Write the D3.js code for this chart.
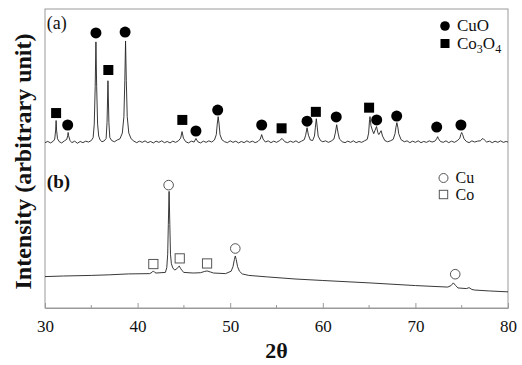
<!DOCTYPE html>
<html><head><meta charset="utf-8">
<script src="https://cdn.jsdelivr.net/npm/d3@7"></script>
<style>body{margin:0;background:#fff}svg{display:block}</style>
</head><body>
<svg id="c" width="522" height="365"></svg>
<script>
// ---- data (2θ in degrees, intensity in arbitrary units) ----
const seriesA = [[30.0,55.3],[30.3,55.7],[30.6,55.2],[30.9,55.8],[31.05,56.5],[31.15,59.5],[31.2,62.7],[31.25,59.5],[31.35,56.6],[31.55,55.6],[31.8,55.2],[32.1,55.9],[32.35,56.4],[32.45,57.6],[32.5,58.7],[32.55,57.6],[32.7,56.0],[32.9,55.3],[33.2,55.8],[33.5,55.1],[33.8,55.7],[34.1,55.3],[34.4,55.8],[34.7,55.5],[35.0,56.0],[35.2,57.0],[35.32,61.5],[35.42,74],[35.5,89.0],[35.58,74],[35.68,61.5],[35.8,57.5],[35.95,56.2],[36.15,55.6],[36.4,55.9],[36.6,56.7],[36.7,62],[36.8,76.0],[36.9,62],[37.0,57.0],[37.2,56.0],[37.5,55.6],[37.8,56.2],[38.1,56.6],[38.35,58.5],[38.52,64],[38.62,76],[38.7,89.3],[38.78,76],[38.88,64],[39.05,58.5],[39.3,56.6],[39.6,55.8],[39.9,55.3],[40.2,55.8],[40.5,55.4],[40.8,55.9],[41.1,55.3],[41.4,55.7],[41.7,55.2],[42.0,55.8],[42.3,55.4],[42.6,55.9],[42.9,55.3],[43.2,55.7],[43.5,55.2],[43.8,55.8],[44.1,55.4],[44.4,55.9],[44.65,56.8],[44.8,59.0],[44.95,56.8],[45.2,55.6],[45.5,55.2],[45.8,55.8],[46.1,55.5],[46.3,56.7],[46.5,55.6],[46.8,55.2],[47.1,55.8],[47.4,55.4],[47.7,55.9],[48.0,55.5],[48.3,56.2],[48.5,58.0],[48.6,61.5],[48.7,64.0],[48.8,61.5],[48.9,58.0],[49.1,56.3],[49.4,55.6],[49.7,55.3],[50.0,55.9],[50.3,55.4],[50.6,55.8],[50.9,55.2],[51.2,55.7],[51.5,55.3],[51.8,55.9],[52.1,55.4],[52.4,55.8],[52.7,55.3],[53.0,55.7],[53.25,56.5],[53.4,58.0],[53.55,56.5],[53.8,55.5],[54.1,55.9],[54.4,55.3],[54.7,55.8],[55.0,55.4],[55.3,55.9],[55.6,56.7],[55.9,55.6],[56.2,55.3],[56.5,55.8],[56.8,55.4],[57.1,55.9],[57.4,55.3],[57.7,55.8],[58.0,56.3],[58.15,57.8],[58.3,60.3],[58.45,57.8],[58.65,56.2],[58.9,56.0],[59.1,57.5],[59.2,60.5],[59.3,63.3],[59.4,60.5],[59.5,57.5],[59.75,56.0],[60.0,55.6],[60.3,55.9],[60.6,55.4],[60.9,55.8],[61.2,56.5],[61.35,58.5],[61.5,61.3],[61.65,58.5],[61.8,56.5],[62.1,55.6],[62.4,55.3],[62.7,55.8],[63.0,55.4],[63.3,55.9],[63.6,55.3],[63.9,55.7],[64.2,55.4],[64.5,55.9],[64.8,56.4],[64.95,58.5],[65.05,63],[65.1,64.0],[65.2,61],[65.35,59.5],[65.5,58.3],[65.65,59.5],[65.8,60.7],[65.95,58.6],[66.05,58.0],[66.15,58.5],[66.3,59.3],[66.45,57.5],[66.7,56.0],[67.0,55.6],[67.3,55.9],[67.6,56.4],[67.8,58.3],[67.9,60.5],[68.0,62.0],[68.1,60.5],[68.2,58.3],[68.45,56.3],[68.8,55.6],[69.1,55.9],[69.4,55.3],[69.7,55.8],[70.0,55.4],[70.3,55.9],[70.6,55.3],[70.9,55.7],[71.2,55.4],[71.5,55.9],[71.8,55.5],[72.1,55.8],[72.3,56.6],[72.4,57.3],[72.5,56.6],[72.7,55.7],[73.0,55.4],[73.3,55.9],[73.6,55.3],[73.9,55.8],[74.2,55.4],[74.5,55.9],[74.8,56.8],[74.9,58.0],[75.0,58.7],[75.1,58.0],[75.25,56.6],[75.5,55.7],[75.8,55.3],[76.1,55.9],[76.4,55.5],[76.7,55.8],[77.0,55.9],[77.2,56.5],[77.3,56.7],[77.45,56.2],[77.7,55.5],[78.0,55.8],[78.3,55.3],[78.6,55.8],[78.9,55.4],[79.2,55.9],[79.5,55.4],[79.8,55.7],[80.0,55.5]];

const seriesB = [[30,10.5],[32,10.7],[35,10.9],[37,11.1],[39,11.4],[41.3,11.5],[41.55,11.9],[41.7,12.4],[41.85,11.9],[42.0,11.7],[43.0,11.9],[43.15,13.5],[43.25,18],[43.32,28],[43.4,39.0],[43.48,28],[43.55,18],[43.65,14.8],[43.8,13.4],[44.0,12.7],[44.2,13.0],[44.35,13.6],[44.5,14.0],[44.65,13.2],[44.8,12.5],[45.0,11.9],[46.0,11.7],[46.8,11.8],[47.2,12.2],[47.5,12.4],[47.9,12.0],[48.2,11.7],[49.5,11.5],[50.1,12.3],[50.3,13.8],[50.45,16.2],[50.55,17.4],[50.65,16.2],[50.8,13.8],[51.0,12.3],[51.3,11.4],[52,10.9],[54,10.4],[57,9.7],[60,9.2],[65,8.4],[70,7.5],[73.5,7.0],[73.85,7.5],[74.1,8.4],[74.35,7.5],[74.6,6.7],[75.5,6.5],[75.8,6.8],[76.1,6.2],[76.4,6.0],[78,5.7],[80,5.4]];

const cuoMarks  = [[32.45,61.2],[35.5,92.0],[38.65,92.3],[46.3,59.2],[48.65,66.2],[53.4,61.2],[58.3,62.5],[61.45,63.9],[65.82,62.9],[67.98,64.2],[72.3,60.5],[74.92,61.2]];
const co3o4Marks = [[31.2,65.2],[36.84,79.6],[44.83,62.9],[55.55,60.1],[59.25,65.6],[65.0,67.0]];
const cuMarks = [[43.35,41.1],[50.55,19.9],[74.3,11.3]];
const coMarks = [[41.7,14.7],[44.55,16.6],[47.5,14.9]];

const xTicks = [30,40,50,60,70,80];
const xMinor = [35,45,55,65,75];
const panelLabels = [["(a)",30.2,93.3],["(b)",30.2,40]];
const legendA = [["CuO","fcircle"],["Co3O4","fsquare"]];
const legendB = [["Cu","ocircle"],["Co","osquare"]];

// ---- layout ----
const L = 45, R = 508, T = 9, B = 308;
const svg = d3.select("#c");
const x = d3.scaleLinear().domain([30,80]).range([L,R]);
const y = d3.scaleLinear().domain([0,100]).range([B,T]);
const serif = "'Liberation Serif','Times New Roman',serif";
const frameCol = "#9a9a9a";

// frame
svg.append("rect").attr("x",L).attr("y",T).attr("width",R-L).attr("height",B-T)
  .attr("fill","none").attr("stroke",frameCol).attr("stroke-width",1);

// bottom axis
const ax = svg.append("g").attr("transform",`translate(0,${B})`)
  .call(d3.axisBottom(x).tickValues(xTicks).tickSizeInner(-5).tickSizeOuter(0).tickPadding(12));
ax.select(".domain").attr("stroke",frameCol);
ax.selectAll(".tick line").attr("stroke",frameCol);
ax.selectAll(".tick text").attr("font-family",serif).attr("font-size",17).attr("fill","#111");
svg.append("g").selectAll("line").data(xMinor).join("line")
  .attr("x1",d=>x(d)).attr("x2",d=>x(d)).attr("y1",B).attr("y2",B-3).attr("stroke",frameCol);

// lines
const line = d3.line().x(d=>x(d[0])).y(d=>y(d[1]));
svg.append("path").datum(seriesA).attr("d",line).attr("fill","none").attr("stroke","#222").attr("stroke-width",0.9);
svg.append("path").datum(seriesB).attr("d",line).attr("fill","none").attr("stroke","#222").attr("stroke-width",0.9);

// markers
function marker(g, type, cx, cy, s){
  if(type==="fcircle") g.append("circle").attr("cx",cx).attr("cy",cy).attr("r",s).attr("fill","#000");
  if(type==="fsquare") g.append("rect").attr("x",cx-s).attr("y",cy-s).attr("width",2*s).attr("height",2*s).attr("fill","#000");
  if(type==="ocircle") g.append("circle").attr("cx",cx).attr("cy",cy).attr("r",s).attr("fill","#fff").attr("stroke","#555").attr("stroke-width",1);
  if(type==="osquare") g.append("rect").attr("x",cx-s).attr("y",cy-s).attr("width",2*s).attr("height",2*s).attr("fill","#fff").attr("stroke","#555").attr("stroke-width",1);
}
const mg = svg.append("g");
cuoMarks.forEach(d=>marker(mg,"fcircle",x(d[0]),y(d[1]),5.5));
co3o4Marks.forEach(d=>marker(mg,"fsquare",x(d[0]),y(d[1]),5));
cuMarks.forEach(d=>marker(mg,"ocircle",x(d[0]),y(d[1]),4.8));
coMarks.forEach(d=>marker(mg,"osquare",x(d[0]),y(d[1]),4.6));

// panel labels
panelLabels.forEach(p=>{
  svg.append("text").attr("x",x(p[1])).attr("y",y(p[2])).attr("font-family",serif)
    .attr("font-size",p[0]==="(b)"?19:18).attr("font-weight",p[0]==="(b)"?"bold":"normal").attr("fill","#111").text(p[0]);
});

// legends
function legend(items, lx, ly, dy, s, fs){
  items.forEach((it,i)=>{
    const cy = ly + i*dy;
    marker(svg, it[1], lx, cy, it[1].endsWith("circle")? s : s-0.3);
    const t = svg.append("text").attr("x",lx+12).attr("y",cy+5).attr("font-family",serif).attr("font-size",fs).attr("fill","#111");
    if(it[0]==="Co3O4"){
      t.append("tspan").text("Co");
      t.append("tspan").attr("font-size",12).attr("dy",4).text("3");
      t.append("tspan").attr("dy",-4).text("O");
      t.append("tspan").attr("font-size",12).attr("dy",4).text("4");
    } else t.text(it[0]);
  });
}
legend(legendA, 445, 26, 17.5, 4.8, 17);
legend(legendB, 443.5, 178, 16.5, 4.5, 16);

// axis titles
svg.append("text").attr("x",x(55)).attr("y",358).attr("text-anchor","middle")
  .attr("font-family",serif).attr("font-weight","bold").attr("font-size",22).attr("fill","#111").text("2θ");
svg.append("text").attr("transform",`translate(31,${(T+B)/2+3}) rotate(-90)`).attr("text-anchor","middle")
  .attr("font-family",serif).attr("font-weight","bold").attr("font-size",24).attr("fill","#111").text("Intensity (arbitrary unit)");
</script>
</body></html>
